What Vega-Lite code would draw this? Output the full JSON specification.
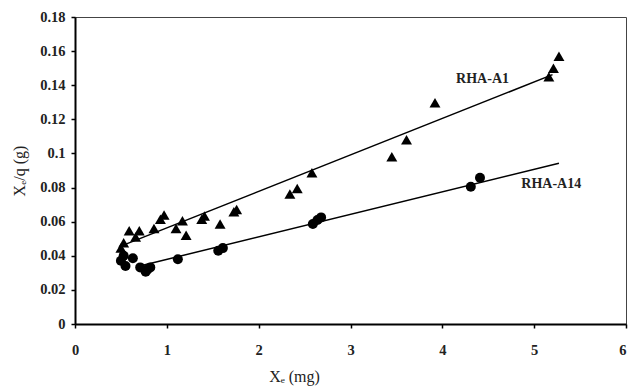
{
  "$schema": "https://vega.github.io/schema/vega-lite/v6.json",
  "width": 551,
  "height": 307,
  "autosize": "none",
  "padding": {"left": 75, "top": 17, "right": 2, "bottom": 67},
  "background": "white",
  "config": {
    "view": {"stroke": "#444", "strokeWidth": 1},
    "axis": {
      "grid": false,
      "domainColor": "black",
      "domainWidth": 2,
      "tickColor": "black",
      "tickWidth": 1.5,
      "labelOverlap": false,
      "labelFont": "Liberation Serif",
      "labelFontWeight": "bold",
      "labelFontSize": 14.5,
      "labelColor": "#222",
      "titleFont": "Liberation Serif",
      "titleFontWeight": "normal",
      "titleFontSize": 16,
      "titleColor": "#222"
    }
  },
  "datasets": {
    "points": [
      {"series": "RHA-A1", "xe": 0.50, "y": 0.0445},
      {"series": "RHA-A1", "xe": 0.53, "y": 0.0477},
      {"series": "RHA-A1", "xe": 0.59, "y": 0.0547},
      {"series": "RHA-A1", "xe": 0.66, "y": 0.0510},
      {"series": "RHA-A1", "xe": 0.70, "y": 0.0547},
      {"series": "RHA-A1", "xe": 0.86, "y": 0.0560},
      {"series": "RHA-A1", "xe": 0.93, "y": 0.0614},
      {"series": "RHA-A1", "xe": 0.97, "y": 0.0639},
      {"series": "RHA-A1", "xe": 1.10, "y": 0.0560},
      {"series": "RHA-A1", "xe": 1.17, "y": 0.0606},
      {"series": "RHA-A1", "xe": 1.21, "y": 0.0520},
      {"series": "RHA-A1", "xe": 1.38, "y": 0.0614},
      {"series": "RHA-A1", "xe": 1.41, "y": 0.0633},
      {"series": "RHA-A1", "xe": 1.58, "y": 0.0586},
      {"series": "RHA-A1", "xe": 1.73, "y": 0.0658},
      {"series": "RHA-A1", "xe": 1.76, "y": 0.0672},
      {"series": "RHA-A1", "xe": 2.34, "y": 0.0762},
      {"series": "RHA-A1", "xe": 2.42, "y": 0.0795},
      {"series": "RHA-A1", "xe": 2.58, "y": 0.0887},
      {"series": "RHA-A1", "xe": 3.45, "y": 0.0980},
      {"series": "RHA-A1", "xe": 3.61, "y": 0.1080},
      {"series": "RHA-A1", "xe": 3.92, "y": 0.1297},
      {"series": "RHA-A1", "xe": 5.16, "y": 0.1450},
      {"series": "RHA-A1", "xe": 5.21, "y": 0.1500},
      {"series": "RHA-A1", "xe": 5.27, "y": 0.1570},
      {"series": "RHA-A14", "xe": 0.50, "y": 0.0371},
      {"series": "RHA-A14", "xe": 0.53, "y": 0.0400},
      {"series": "RHA-A14", "xe": 0.55, "y": 0.0340},
      {"series": "RHA-A14", "xe": 0.63, "y": 0.0385},
      {"series": "RHA-A14", "xe": 0.71, "y": 0.0332},
      {"series": "RHA-A14", "xe": 0.77, "y": 0.0307},
      {"series": "RHA-A14", "xe": 0.79, "y": 0.0320},
      {"series": "RHA-A14", "xe": 0.82, "y": 0.0332},
      {"series": "RHA-A14", "xe": 1.12, "y": 0.0380},
      {"series": "RHA-A14", "xe": 1.56, "y": 0.0430},
      {"series": "RHA-A14", "xe": 1.61, "y": 0.0445},
      {"series": "RHA-A14", "xe": 2.59, "y": 0.0586},
      {"series": "RHA-A14", "xe": 2.64, "y": 0.0610},
      {"series": "RHA-A14", "xe": 2.68, "y": 0.0625},
      {"series": "RHA-A14", "xe": 4.31, "y": 0.0805},
      {"series": "RHA-A14", "xe": 4.41, "y": 0.0858}
    ],
    "fits": [
      {"series": "RHA-A1", "xe": 0.52, "y": 0.0461},
      {"series": "RHA-A1", "xe": 5.20, "y": 0.1462},
      {"series": "RHA-A14", "xe": 0.75, "y": 0.0346},
      {"series": "RHA-A14", "xe": 5.27, "y": 0.0942}
    ],
    "labels": [
      {"xe": 4.15, "y": 0.1436, "label": "RHA-A1"},
      {"xe": 4.86, "y": 0.0819, "label": "RHA-A14"}
    ]
  },
  "encoding": {
    "x": {"field": "xe", "type": "quantitative", "scale": {"domain": [0, 6], "nice": false},
      "axis": {"values": [0, 1, 2, 3, 4, 5, 6], "format": "d", "labelOverlap": false, "labelFlush": false,
        "labelAlign": {"condition": {"test": "datum.value == 6", "value": "right"}, "value": "center"},
        "tickSize": 4, "labelPadding": 15, "title": "Xₑ (mg)", "titlePadding": 12, "titleX": 219, "titleAnchor": null}},
    "y": {"field": "y", "type": "quantitative", "scale": {"domain": [0, 0.18], "nice": false},
      "axis": {"values": [0, 0.02, 0.04, 0.06, 0.08, 0.1, 0.12, 0.14, 0.16, 0.18],
        "labelExpr": "datum.value == 0 ? '0' : format(datum.value, '.2~f')",
        "labelOverlap": false, "labelFlush": false, "labelBound": false, "labelSeparation": 0,
        "tickSize": 4, "labelPadding": 6, "title": "Xₑ/q (g)", "titlePadding": 12}}
  },
  "layer": [
    {
      "data": {"name": "fits"},
      "mark": {"type": "line", "color": "black", "strokeWidth": 1.5},
      "encoding": {"detail": {"field": "series"}}
    },
    {
      "data": {"name": "points"},
      "mark": {"type": "point", "filled": true, "color": "black", "opacity": 1},
      "encoding": {
        "shape": {"field": "series", "type": "nominal", "scale": {"domain": ["RHA-A1", "RHA-A14"], "range": ["triangle-up", "circle"]}, "legend": null},
        "size": {"field": "series", "type": "nominal", "scale": {"domain": ["RHA-A1", "RHA-A14"], "range": [120, 100]}, "legend": null}
      }
    },
    {
      "data": {"name": "labels"},
      "mark": {"type": "text", "align": "left", "baseline": "middle", "font": "Liberation Serif", "fontWeight": "bold", "fontSize": 14, "color": "#222"},
      "encoding": {"text": {"field": "label"}}
    }
  ]
}
